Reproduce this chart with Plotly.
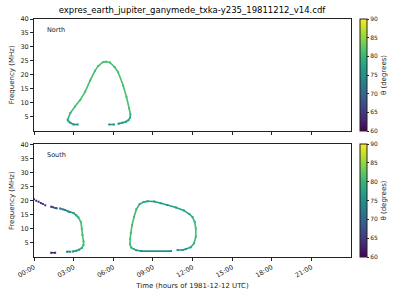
import pandas as pd
import plotly.graph_objects as go
from plotly.colors import sample_colorscale

DAY = "1981-12-12"
TITLE = "expres_earth_jupiter_ganymede_txka-y235_19811212_v14.cdf"

# ---- North hemisphere (time in hours, frequency MHz, theta degrees); None = gap
north_time = [3.3, 3.0, 2.75, 2.6, 2.55, 2.75, 3.1, 3.5, 3.87, 4.25, 4.62, 4.87, 5.25, 5.45, 5.75,
              6.1, 6.37, 6.75, 7.0, 7.2, 7.3, 7.27, 7.15, 6.95, 6.7, 6.4, None, 6.05, 5.7]
north_freq = [2.2, 2.2, 2.8, 3.4, 4.0, 6.3, 8.6, 11.0, 13.9, 18.0, 21.5, 23.2, 24.6, 24.7, 24.4,
              22.8, 20.9, 16.2, 12.1, 8.0, 5.8, 4.6, 3.7, 3.2, 2.8, 2.5, None, 2.2, 2.2]
north_theta = [75, 76, 77, 78, 79, 80, 81, 81, 81, 81, 81, 81, 81, 81, 81,
               81, 81, 81, 81, 81, 80, 79, 78, 77, 76, 75, None, 75, 75]

# ---- South hemisphere
south_time = [0.0, None, 0.17, None, 0.35, None, 0.52, None, 0.67, None, 0.85, None,
              1.3, 1.45, None, 1.6, 1.72, None,
              1.98, 2.22, None, 2.35, 2.6, 2.72, 3.0, 3.2, 3.37, 3.55, 3.62, 3.67, 3.75, 3.75,
              3.62, 3.4, 3.2, 2.95, None, 2.75, 2.5, None, 1.6, 1.3, None,
              10.37, 8.1, 7.75, 7.55, 7.35, 7.27, 7.28, 7.33, 7.42, 7.57, 7.75, 8.0, 8.3, 8.6,
              9.1, 9.6, 10.1, 10.75, 11.35, 11.75, 12.0, 12.17, 12.25, 12.25, 12.12, 11.87,
              11.5, 11.25, 10.87]
south_freq = [20.5, None, 20.0, None, 19.6, None, 19.2, None, 18.8, None, 18.4, None,
              17.9, 17.7, None, 17.4, 17.3, None,
              17.2, 16.9, None, 16.7, 16.2, 16.0, 15.6, 14.8, 14.0, 12.4, 10.0, 7.8, 5.5, 4.3,
              3.2, 2.6, 2.2, 2.0, None, 1.9, 1.9, None, 1.5, 1.5, None,
              2.1, 2.1, 2.4, 2.8, 3.4, 4.5, 6.5, 8.5, 11.3, 14.2, 17.0, 18.8, 19.5, 19.8,
              19.7, 19.1, 18.5, 17.6, 16.5, 15.3, 14.2, 12.4, 10.1, 7.2, 4.9, 3.5,
              2.8, 2.5, 2.5]
south_theta = [63, None, 63, None, 63, None, 64, None, 64, None, 64, None,
               66, 66, None, 68, 68, None,
               71, 72, None, 73, 74, 76, 77, 78, 80, 81, 81, 81, 81, 81,
               79, 77, 76, 75, None, 75, 75, None, 63, 63, None,
               75, 75, 77, 79, 80, 81, 81, 81, 81, 81, 80, 79, 78, 77,
               77, 77, 77, 77, 77, 78, 79, 80, 81, 81, 80, 78,
               77, 76, 75]

x_tick_labels = ["00:00", "03:00", "06:00", "09:00", "12:00", "15:00", "18:00", "21:00"]
x_tick_hours = [0, 3, 6, 9, 12, 15, 18, 21]
y_ticks = [5, 10, 15, 20, 25, 30, 35, 40]
cbar_ticks = [60, 65, 70, 75, 80, 85, 90]
THETA_MIN, THETA_MAX = 60, 90

FONT = "DejaVu Sans"
INK = "#222222"


def to_dt(h):
    return None if h is None else pd.Timestamp(DAY) + pd.Timedelta(hours=h)


fig = go.Figure()


def add_panel(times, freqs, thetas, xa, ya, cax):
    # continuous line pieces coloured by theta
    for i in range(len(times) - 1):
        if times[i] is None or times[i + 1] is None:
            continue
        th = (thetas[i] + thetas[i + 1]) / 2
        col = sample_colorscale("Viridis", [(th - THETA_MIN) / (THETA_MAX - THETA_MIN)])[0]
        fig.add_trace(go.Scatter(
            x=[to_dt(times[i]), to_dt(times[i + 1])], y=[freqs[i], freqs[i + 1]],
            mode="lines", line=dict(color=col, width=1.6),
            xaxis=xa, yaxis=ya, showlegend=False, hoverinfo="skip"))
    pts = [(t, f, th) for t, f, th in zip(times, freqs, thetas) if t is not None]
    fig.add_trace(go.Scatter(
        x=[to_dt(p[0]) for p in pts], y=[p[1] for p in pts],
        mode="markers",
        marker=dict(size=2, symbol="square", color=[p[2] for p in pts], coloraxis=cax,
                    line=dict(width=0)),
        xaxis=xa, yaxis=ya, showlegend=False))


add_panel(north_time, north_freq, north_theta, "x2", "y2", "coloraxis2")
add_panel(south_time, south_freq, south_theta, "x", "y", "coloraxis")

axis_common = dict(showline=True, mirror=True, linecolor=INK, linewidth=1,
                   ticks="outside", ticklen=3, tickcolor=INK, showgrid=False,
                   zeroline=False, tickfont=dict(size=6.5, color=INK, family=FONT))

x_range = [pd.Timestamp(DAY), pd.Timestamp(DAY) + pd.Timedelta(hours=24)]
tickvals = [to_dt(h) for h in x_tick_hours]

TOP_DOM = [0.531, 1.0]
BOT_DOM = [0.0, 0.473]


def cbar(y, yanchor, length):
    return dict(colorscale="Viridis", cmin=THETA_MIN, cmax=THETA_MAX,
                colorbar=dict(x=1.028, xanchor="left", y=y, yanchor=yanchor,
                              len=length, lenmode="fraction", thickness=7,
                              xpad=0, ypad=0, outlinewidth=1, outlinecolor=INK,
                              ticks="outside", ticklen=2, tickcolor=INK,
                              tickvals=cbar_ticks,
                              tickfont=dict(size=6, color=INK, family=FONT),
                              title=dict(text="θ (degrees)", side="right",
                                         font=dict(size=7, color=INK, family=FONT))))


fig.update_layout(
    width=400, height=300,
    margin=dict(l=32, r=48, t=19, b=38),
    paper_bgcolor="white", plot_bgcolor="white",
    font=dict(family=FONT, color=INK),
    title=dict(text=TITLE, x=0.48, xanchor="center", y=0.967, yanchor="middle",
               font=dict(size=8.5, color="black", family=FONT)),
    xaxis=dict(domain=[0, 1], anchor="y", type="date", range=x_range,
               tickvals=tickvals, ticktext=x_tick_labels, tickangle=-30,
               title=dict(text="Time (hours of 1981-12-12 UTC)", standoff=4,
                          font=dict(size=7, color=INK, family=FONT)),
               **axis_common),
    xaxis2=dict(domain=[0, 1], anchor="y2", type="date", range=x_range,
                tickvals=tickvals, showticklabels=False, matches="x", **axis_common),
    yaxis=dict(domain=BOT_DOM, anchor="x", range=[0, 40], tickvals=y_ticks,
               title=dict(text="Frequency (MHz)", standoff=4,
                          font=dict(size=7, color=INK, family=FONT)),
               **axis_common),
    yaxis2=dict(domain=TOP_DOM, anchor="x2", range=[0, 40], tickvals=y_ticks,
                title=dict(text="Frequency (MHz)", standoff=4,
                           font=dict(size=7, color=INK, family=FONT)),
                **axis_common),
    coloraxis=cbar(0.0, "bottom", BOT_DOM[1] - BOT_DOM[0]),
    coloraxis2=cbar(1.0, "top", TOP_DOM[1] - TOP_DOM[0]),
    annotations=[
        dict(text="North", xref="paper", yref="paper", x=0.034, y=0.955,
             xanchor="left", yanchor="middle", showarrow=False,
             font=dict(size=6.5, color=INK, family=FONT)),
        dict(text="South", xref="paper", yref="paper", x=0.034, y=0.428,
             xanchor="left", yanchor="middle", showarrow=False,
             font=dict(size=6.5, color=INK, family=FONT)),
    ],
)

fig.write_html("out.html")
